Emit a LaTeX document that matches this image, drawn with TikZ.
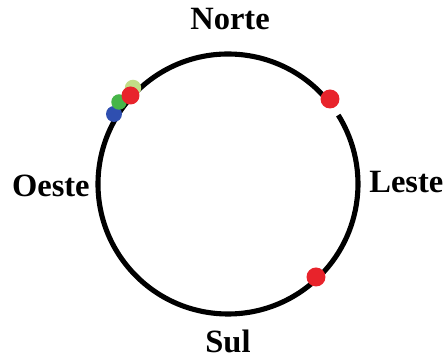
\documentclass[tikz,border=0pt]{standalone}
\usepackage{fontspec}
\setmainfont{Liberation Serif}
\usepackage{xcolor}
\usetikzlibrary{positioning, calc}
\definecolor{dotred}{HTML}{E8232B}
\definecolor{dotgreen}{HTML}{46B548}
\definecolor{dotlime}{HTML}{C2DD86}
\definecolor{dotblue}{HTML}{2F4FB0}
\tikzset{
  lbl/.style={font=\fontsize{18.5}{20}\selectfont\bfseries, text=black, inner sep=0pt, anchor=base},
  orbit/.style={line width=2.9pt, draw=black},
  dot/.style={circle, fill=#1, draw=none, inner sep=0pt, minimum size=0.36cm},
  dot/.default=dotred,
}

\begin{document}
\begin{tikzpicture}[x=0.02cm, y=0.02cm]
  \useasboundingbox (0,0) rectangle (444,358);
  \coordinate (c) at (228,174);
  \draw[orbit] ($(c)+(40:130)$) arc[start angle=40, end angle=392, radius=130];
  \node[lbl] (norte) at (230,328) {Norte};
  \node[lbl] (sul) at (228,5) {Sul};
  \node[lbl, anchor=base west] (leste) at (369,165) {Leste};
  \node[lbl, anchor=base east] (oeste) at (90,161) {Oeste};
  \node[dot=dotblue, minimum size=0.32cm] (b1) at (114,244) {};
  \node[dot=dotgreen, minimum size=0.31cm] (g1) at (119,256) {};
  \node[dot=dotlime, minimum size=0.33cm] (y1) at (133,270) {};
  \node[dot] (r1) at (130.5,262.5) {};
  \node[dot, minimum size=0.38cm] (r2) at (330,259) {};
  \node[dot, minimum size=0.38cm] (r3) at (316,81) {};
\end{tikzpicture}
\end{document}
